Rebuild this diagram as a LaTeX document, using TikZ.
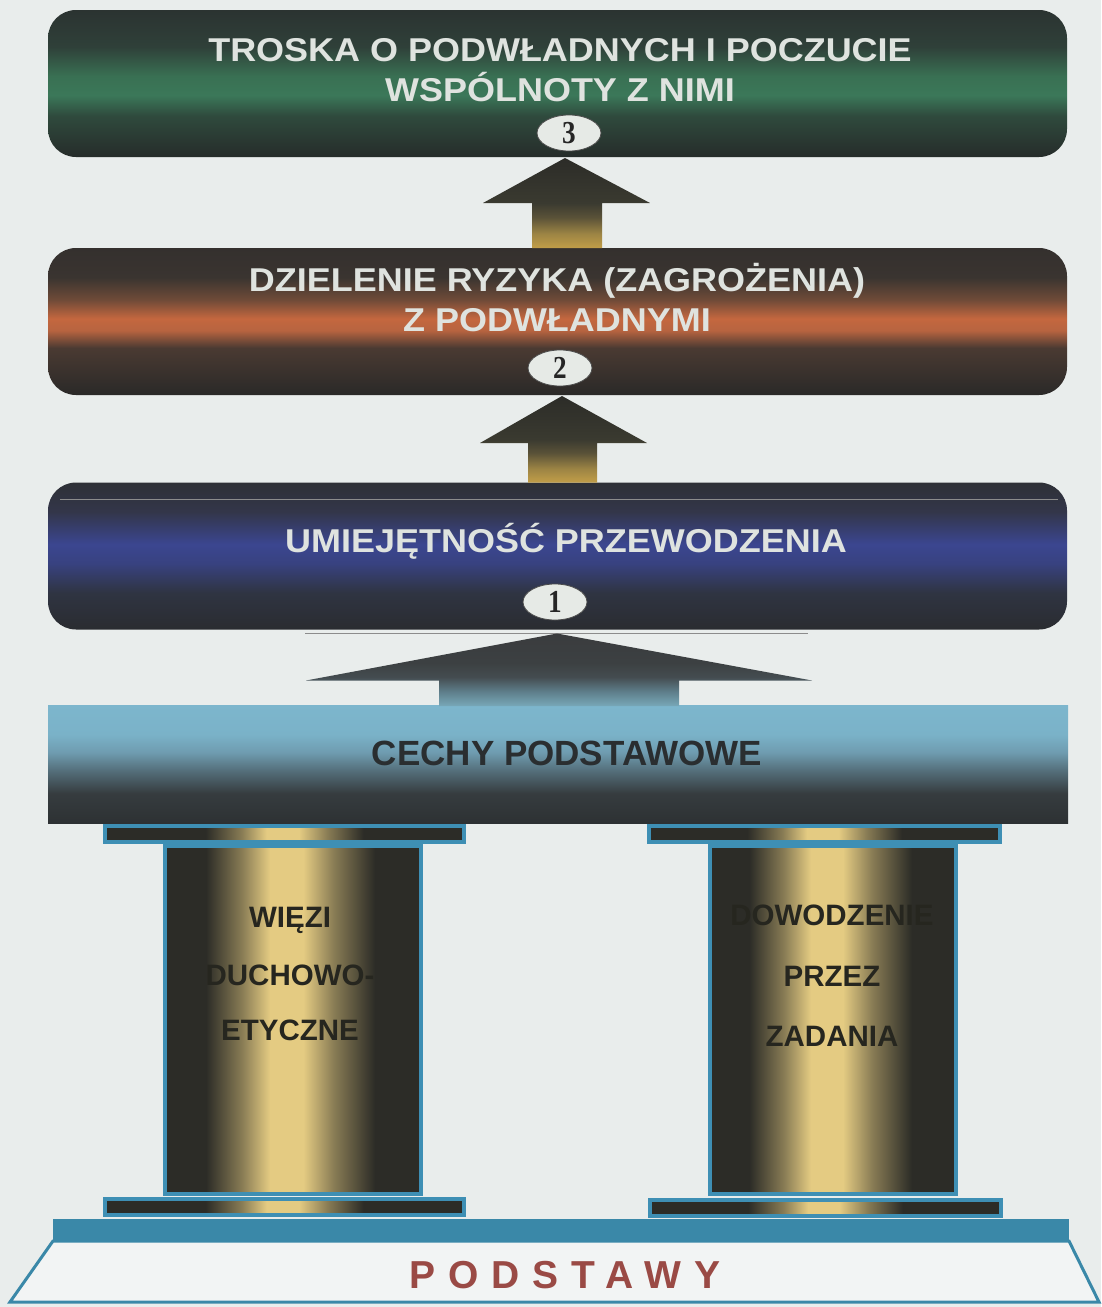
\documentclass[tikz,border=0pt]{standalone}
\usepackage{fontspec}
\setmainfont{Liberation Sans}
\newfontfamily\titlefont[FakeStretch=1.09]{Liberation Sans}
\newfontfamily\numfont[FakeStretch=0.85]{Liberation Serif}
\newfontfamily\spacedfont[LetterSpace=33]{Liberation Sans}
\usetikzlibrary{calc,shapes.geometric}

\definecolor{pagebg}{HTML}{E9EDEC}
\definecolor{titletext}{HTML}{DFE3DF}
\definecolor{darktext}{HTML}{2A2E30}
\definecolor{pillartext}{HTML}{26261F}
\definecolor{rimblue}{HTML}{3E8FB4}
\definecolor{slabblue}{HTML}{3A88A8}
\definecolor{basered}{HTML}{9A4A45}
\definecolor{badgefill}{HTML}{E6EAE6}

% green tier
\definecolor{ga}{HTML}{262C2A}\definecolor{gb}{HTML}{2F4A3D}\definecolor{gc}{HTML}{3B7859}
\definecolor{gd}{HTML}{397053}\definecolor{ge}{HTML}{2F4039}\definecolor{gf}{HTML}{2B3331}
\pgfdeclareverticalshading{tiergreen}{100bp}{color(0bp)=(ga); color(25bp)=(ga); color(39bp)=(gb);
  color(46bp)=(gc); color(52.5bp)=(gd); color(62.5bp)=(ge); color(75bp)=(gf); color(100bp)=(gf)}
% orange tier
\definecolor{oa}{HTML}{2A2928}\definecolor{ob}{HTML}{4A3A32}\definecolor{oc}{HTML}{B86440}
\definecolor{od}{HTML}{C4673F}\definecolor{oe}{HTML}{6E4A38}\definecolor{of}{HTML}{3A3430}\definecolor{og}{HTML}{34302E}
\pgfdeclareverticalshading{tierorange}{100bp}{color(0bp)=(oa); color(25bp)=(oa); color(41bp)=(ob);
  color(47bp)=(oc); color(51bp)=(od); color(57.5bp)=(oe); color(65bp)=(of); color(75bp)=(og); color(100bp)=(og)}
% blue tier
\definecolor{ba}{HTML}{2A2C30}\definecolor{bb}{HTML}{2F3442}\definecolor{bc}{HTML}{384280}
\definecolor{bd}{HTML}{3B4690}\definecolor{be}{HTML}{33364A}\definecolor{bf}{HTML}{2E3036}
\pgfdeclareverticalshading{tierblue}{100bp}{color(0bp)=(ba); color(25bp)=(ba); color(37.5bp)=(bb);
  color(47.5bp)=(bc); color(54bp)=(bd); color(65bp)=(be); color(75bp)=(bf); color(100bp)=(bf)}
% base traits beam
\definecolor{ca}{HTML}{2D3133}\definecolor{cb}{HTML}{363C3F}\definecolor{cc}{HTML}{55707C}
\definecolor{cd}{HTML}{6F9CB0}\definecolor{ce}{HTML}{7AB2C8}\definecolor{cf}{HTML}{7DB6CD}
\pgfdeclareverticalshading{beam}{100bp}{color(0bp)=(ca); color(25bp)=(ca); color(37.5bp)=(cb);
  color(47.5bp)=(cc); color(55bp)=(cd); color(62.5bp)=(ce); color(75bp)=(cf); color(100bp)=(cf)}
% arrows
\definecolor{aa}{HTML}{C29E48}\definecolor{ab}{HTML}{9C8444}\definecolor{ac}{HTML}{5A5238}
\definecolor{ad}{HTML}{3A3A30}\definecolor{ae}{HTML}{2C2C28}
\pgfdeclareverticalshading{goldarrow}{100bp}{color(0bp)=(aa); color(25bp)=(aa); color(33bp)=(ab);
  color(42bp)=(ac); color(50bp)=(ad); color(75bp)=(ae); color(100bp)=(ae)}
\definecolor{la}{HTML}{78A8B8}\definecolor{lb}{HTML}{5E7E8A}\definecolor{lc}{HTML}{444C50}
\definecolor{ld}{HTML}{3C4042}\definecolor{le}{HTML}{3A3C3E}
\pgfdeclareverticalshading{bluearrow}{100bp}{color(0bp)=(la); color(25bp)=(la); color(35bp)=(lb);
  color(45bp)=(lc); color(55bp)=(ld); color(75bp)=(le); color(100bp)=(le)}
% pillars and plates
\definecolor{pdark}{HTML}{2C2C27}\definecolor{pgold}{HTML}{E4CB82}
\pgfdeclarehorizontalshading{pillar}{100bp}{color(0bp)=(pdark); color(25bp)=(pdark); color(33bp)=(pdark);
  color(40bp)=(pdark!50!pgold); color(45.5bp)=(pgold); color(52bp)=(pgold); color(58bp)=(pdark!50!pgold);
  color(66bp)=(pdark); color(75bp)=(pdark); color(100bp)=(pdark)}
\pgfdeclarehorizontalshading{plate}{100bp}{color(0bp)=(pdark); color(25bp)=(pdark); color(39bp)=(pdark);
  color(44bp)=(pdark!50!pgold); color(47.5bp)=(pgold); color(52bp)=(pgold); color(56bp)=(pdark!50!pgold);
  color(61bp)=(pdark); color(75bp)=(pdark); color(100bp)=(pdark)}

\begin{document}
\begin{tikzpicture}[x=1pt,y=-1pt,
  tierbox/.style={rectangle, rounded corners=28, minimum width=1019, minimum height=147,
    inner sep=0, outer sep=0},
  tiertitle/.style={anchor=base, inner sep=0, text=titletext,
    font=\titlefont\bfseries\fontsize{33}{33}\selectfont},
  badge/.style={ellipse, fill=badgefill, draw=black!70, line width=0.8, inner sep=0,
    minimum width=64, minimum height=36, text=black!85,
    font=\numfont\bfseries\fontsize{32}{32}\selectfont},
  platebox/.style={rectangle, draw=rimblue, line width=4, shading=plate, inner sep=0, outer sep=0,
    minimum height=16},
  pillarbox/.style={rectangle, draw=rimblue, line width=4, shading=pillar, inner sep=0, outer sep=0,
    minimum height=348},
  pillartitle/.style={anchor=base, inner sep=0, text=pillartext,
    font=\bfseries\fontsize{29.5}{29.5}\selectfont}]

\fill[pagebg] (0,0) rectangle (1101,1307);
\useasboundingbox (0,0) rectangle (1101,1307);

% tiers
\node[tierbox, shading=tiergreen] (b3) at (557.5,83.5) {};
\node[tierbox, shading=tierorange] (b2) at (557.5,321.5) {};
\node[tierbox, shading=tierblue] (b1) at (557.5,556) {};
\node[rectangle, shading=beam, minimum width=1020, minimum height=118, inner sep=0, outer sep=0]
  (beam) at (558,764) {};

% thin rule lines
\draw[black!45, line width=0.8] (60,499) -- (1058,499);
\draw[black!45, line width=0.8] (305,633) -- (808,633);

% upward arrows between the tiers
\shade[shading=goldarrow]
  ($(b2.north)+(-25.5,0)$) -- ($(b3.south)+(-25.5,46)$) -- ($(b3.south)+(-74.5,46)$)
  -- ($(b3.south)+(7.5,1)$) -- ($(b3.south)+(92.5,46)$) -- ($(b3.south)+(44.5,46)$)
  -- ($(b2.north)+(44.5,0)$) -- cycle;
\shade[shading=goldarrow]
  ($(b1.north)+(-29.5,0)$) -- ($(b2.south)+(-29.5,48)$) -- ($(b2.south)+(-77.5,48)$)
  -- ($(b2.south)+(4.5,1)$) -- ($(b2.south)+(89.5,48)$) -- ($(b2.south)+(39.5,48)$)
  -- ($(b1.north)+(39.5,0)$) -- cycle;
\shade[shading=bluearrow]
  ($(beam.north)+(-119,1)$) -- ($(b1.south)+(-118.5,51)$) -- ($(b1.south)+(-251.5,51)$)
  -- ($(b1.south)+(-0.5,4)$) -- ($(b1.south)+(254.5,51)$) -- ($(b1.south)+(121.5,51)$)
  -- ($(beam.north)+(121,1)$) -- cycle;

% tier titles and numbers
\node[tiertitle] (t3a) at (560,61) {TROSKA O PODWŁADNYCH I POCZUCIE};
\node[tiertitle] (t3b) at (560,101) {WSPÓLNOTY Z NIMI};
\node[badge] (n3) at (569,133) {3};
\node[tiertitle] (t2a) at (557,291) {DZIELENIE RYZYKA (ZAGROŻENIA)};
\node[tiertitle] (t2b) at (557,331) {Z PODWŁADNYMI};
\node[badge] (n2) at (560,368) {2};
\node[tiertitle] (t1) at (566,552) {UMIEJĘTNOŚĆ PRZEWODZENIA};
\node[badge] (n1) at (555,602) {1};
\node[anchor=base, inner sep=0, text=darktext, font=\bfseries\fontsize{35}{35}\selectfont]
  (tb) at (567,765) {CECHY PODSTAWOWE};

% left pillar
\node[platebox, minimum width=359] (lcap) at (284.5,834) {};
\node[pillarbox, minimum width=256] (lcol) at (293,1020) {};
\node[platebox, minimum width=359] (lfoot) at (284.5,1207) {};
\node[pillartitle] (l1) at (290,927) {WIĘZI};
\node[pillartitle] (l2) at (290,985) {DUCHOWO-};
\node[pillartitle] (l3) at (290,1040) {ETYCZNE};

% right pillar
\node[platebox, minimum width=351] (rcap) at (824.5,834) {};
\node[pillarbox, minimum width=246] (rcol) at (833,1020) {};
\node[platebox, minimum width=351] (rfoot) at (825.5,1207.5) {};
\node[pillartitle] (r1) at (832,925) {DOWODZENIE};
\node[pillartitle] (r2) at (832,986) {PRZEZ};
\node[pillartitle] (r3) at (832,1046) {ZADANIA};

% foundation
\fill[slabblue] (53,1219) rectangle (1069,1241);
\draw[slabblue, line width=3, fill=pagebg!60!white, line join=miter]
  (53,1241) -- (1069,1241) -- (1099,1302) -- (10,1302) -- cycle;
\node[anchor=base, inner sep=0, text=basered, font=\spacedfont\bfseries\fontsize{39}{39}\selectfont]
  (fnd) at (565,1288) {PODSTAWY};
\end{tikzpicture}
\end{document}
